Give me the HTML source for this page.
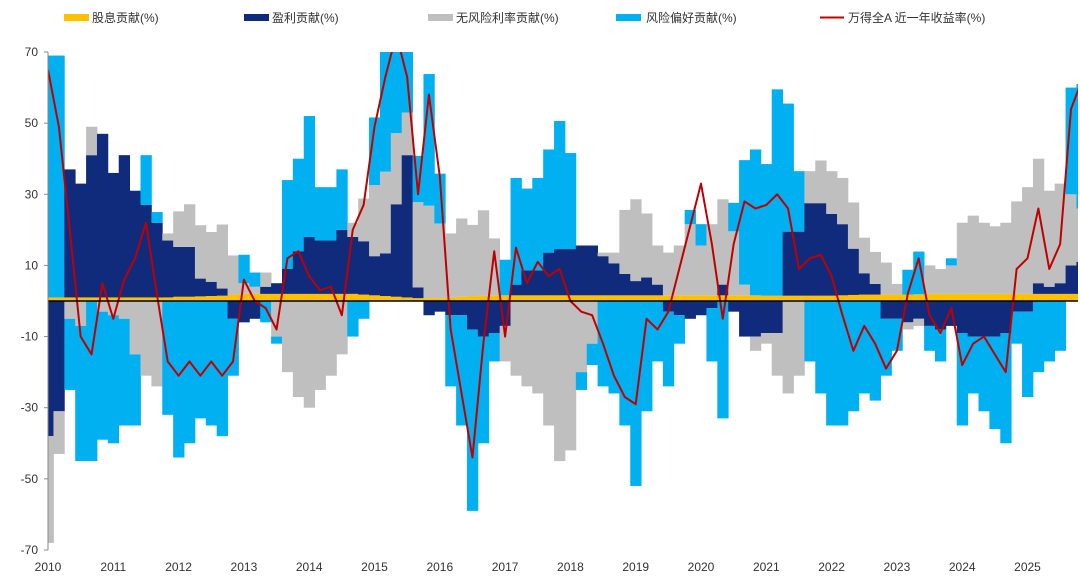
<!DOCTYPE html>
<html><head><meta charset="utf-8">
<style>
body{margin:0;background:#fff;width:1080px;height:578px;overflow:hidden;font-family:"Liberation Sans","Noto Sans CJK SC",sans-serif;}
svg text{font-family:"Liberation Sans","Noto Sans CJK SC",sans-serif;}
</style></head>
<body>
<svg id="chart" width="1080" height="578" viewBox="0 0 1080 578" xmlns="http://www.w3.org/2000/svg">
<defs><clipPath id="plotclip"><rect x="48" y="52" width="1030" height="498"/></clipPath></defs>
<g id="legend" font-size="12" fill="#333">
 <g><rect x="64" y="14" width="25" height="7" fill="#FFC000"/><text x="92" y="22">股息贡献(%)</text></g>
 <g><rect x="244" y="14" width="25" height="7" fill="#102A7C"/><text x="272" y="22">盈利贡献(%)</text></g>
 <g><rect x="428" y="14" width="25" height="7" fill="#BFBFBF"/><text x="456" y="22">无风险利率贡献(%)</text></g>
 <g><rect x="616" y="14" width="25" height="7" fill="#00B0F0"/><text x="646" y="22">风险偏好贡献(%)</text></g>
 <g><line x1="820" y1="17.5" x2="844" y2="17.5" stroke="#C00000" stroke-width="2"/><text x="848" y="22">万得全A 近一年收益率(%)</text></g>
</g>
<g id="bars" clip-path="url(#plotclip)"></g>
<g id="lineg" clip-path="url(#plotclip)"></g>
<g id="axes"></g>
</svg>
<script>
const startYear = 2010;
const stepYears = 1/6;
const dividend = [1,1,1,1,1,1,1,1,1,1,1,1,1.2,1.2,1.3,1.4,1.5,1.8,2,2,2,2,2,2,2,2,2,2,2,1.8,1.6,1.4,1.2,1,0.8,0.8,0.8,1,1.2,1.4,1.5,1.6,1.6,1.6,1.6,1.6,1.6,1.6,1.6,1.6,1.6,1.6,1.6,1.6,1.6,1.6,1.6,1.6,1.6,1.6,1.6,1.6,1.6,1.6,1.6,1.6,1.5,1.5,1.5,1.5,1.5,1.5,1.5,1.6,1.7,1.8,1.8,1.8,1.8,1.8,1.9,2,2,2,2,2,2,2,2,2,2,2,2,2,2,2];
const earnings = [-38,-31,36,32,40,46,35,40,30,26,21,16,14,14,5,4,2,-5,-6,-5,2,3,7,12,16,15,15,18,16,15,11,12,26,40,3,-4,-3,-4,-4,-8,-10,-9,-7,3,7,7,12,13,13,14,14,11,9,6,4,5,3,-3,-4,-5,-4,-2,3,-3,-10,-10,-9,-9,18,18,26,26,23,20,13,6,3,-5,-5,-6,-5,-7,-8,-7,-9,-10,-10,-10,-9,-3,-3,3,2,3,8,9];
const riskFree = [-30,-12,-5,-7,8,-3,-4,-5,-15,-21,-24,2,10,12,15,14,18,11,3,2,4,-10,-20,-27,-30,-25,-21,-15,4,12,20,23,20,12,24,26,21,18,22,20,24,16,-10,-21,-24,-26,-35,-45,-42,-20,-12,1,3,18,23,18,11,12,14,20,14,20,24,18,3,-4,-3,-12,-26,-21,9,12,12,13,13,10,9,9,3,-2,-2,8,7,8,20,22,20,19,20,26,30,35,27,28,20,15];
const riskAppetite = [68,68,-20,-38,-45,-36,-36,-30,-20,14,3,-32,-44,-40,-33,-35,-38,-16,8,4,-6,-2,25,26,34,15,15,17,-10,-5,19,35,30,20,13,37,14,-20,-31,-51,-30,-8,10,30,23,26,29,36,27,-5,-6,-24,-26,-35,-52,-31,-17,-21,-8,4,6,-15,-33,8,35,41,37,58,36,17,-17,-26,-35,-35,-31,-26,-28,-16,-9,7,12,-7,-9,2,-26,-16,-21,-26,-31,-9,-24,-20,-17,-14,30,35];
const windAReturn = [65,49,20,-10,-15,5,-5,6,12,22,2,-17,-21,-17,-21,-17,-21,-17,6,0,-2,-8,12,14,7,3,4,-4,20,27,49,63,75,63,30,58,35,-8,-26,-44,-12,14,-10,15,5,11,7,9,0,-3,-4,-12,-21,-27,-29,-5,-8,-3,9,21,33,16,-5,16,28,26,27,30,26,9,12,13,7,-4,-14,-7,-12,-19,-14,2,12,-4,-9,-2,-18,-12,-10,-15,-20,9,12,26,9,16,54,62];
const yTicks = [70,50,30,10,-10,-30,-50,-70];
const xTicks = [2010,2011,2012,2013,2014,2015,2016,2017,2018,2019,2020,2021,2022,2023,2024,2025];

const NS = "http://www.w3.org/2000/svg";
const X0 = 48, PXY = 65.3, Y0 = 301, PXV = 3.557;
function xs(yr){ return X0 + (yr - startYear) * PXY; }
function ys(v){ return Y0 - v * PXV; }
function mk(tag, attrs, parent){ const e = document.createElementNS(NS, tag); for (const k in attrs) e.setAttribute(k, attrs[k]); parent.appendChild(e); return e; }

const bars = document.getElementById('bars');
const series = [
  {vals: dividend, color: '#FFC000', name: 'dividend-bar'},
  {vals: earnings, color: '#102A7C', name: 'earnings-bar'},
  {vals: riskFree, color: '#BFBFBF', name: 'riskfree-bar'},
  {vals: riskAppetite, color: '#00B0F0', name: 'risk-appetite-bar'}
];
const n = windAReturn.length;
const bw = stepYears * PXY;
for (let i = 0; i < n; i++) {
  let pos = 0, neg = 0;
  const x = xs(startYear + i * stepYears) - bw / 2;
  for (const s of series) {
    const v = s.vals[i] || 0;
    let a, b;
    if (v >= 0) { a = pos; b = pos + v; pos = b; } else { a = neg; b = neg + v; neg = b; }
    const y1 = ys(Math.max(a, b)), y2 = ys(Math.min(a, b));
    const r = mk('rect', {x: x.toFixed(2), y: y1.toFixed(2), width: (bw + 0.4).toFixed(2), height: Math.max(0, y2 - y1).toFixed(2), fill: s.color}, bars);
    
    
  }
}
const axes = document.getElementById('axes');
const zl = mk('line', {x1: 48, y1: ys(0), x2: 1078, y2: ys(0), stroke: '#000', 'stroke-width': 1.5}, axes);


const lineg = document.getElementById('lineg');
let d = '';
for (let i = 0; i < n; i++) {
  const x = xs(startYear + i * stepYears), y = ys(windAReturn[i]);
  d += (i ? 'L' : 'M') + x.toFixed(2) + ' ' + y.toFixed(2);
}
const rl = mk('path', {d: d, fill: 'none', stroke: '#C00000', 'stroke-width': 2, 'stroke-linejoin': 'round'}, lineg);


const ya = mk('line', {x1: 48, y1: ys(70), x2: 48, y2: ys(-70), stroke: '#888', 'stroke-width': 1}, axes);


for (const t of yTicks) {
  const tx = mk('text', {x: 38, y: ys(t) + 4, 'font-size': 12, fill: '#333', 'text-anchor': 'end'}, axes);
  tx.textContent = t;
  
  
  mk('line', {x1: 44, y1: ys(t), x2: 48, y2: ys(t), stroke: '#888'}, axes);
}
for (const t of xTicks) {
  const tx = mk('text', {x: xs(t), y: 571, 'font-size': 12, fill: '#333', 'text-anchor': 'middle'}, axes);
  tx.textContent = t;
  
  
}
</script>
</body></html>
